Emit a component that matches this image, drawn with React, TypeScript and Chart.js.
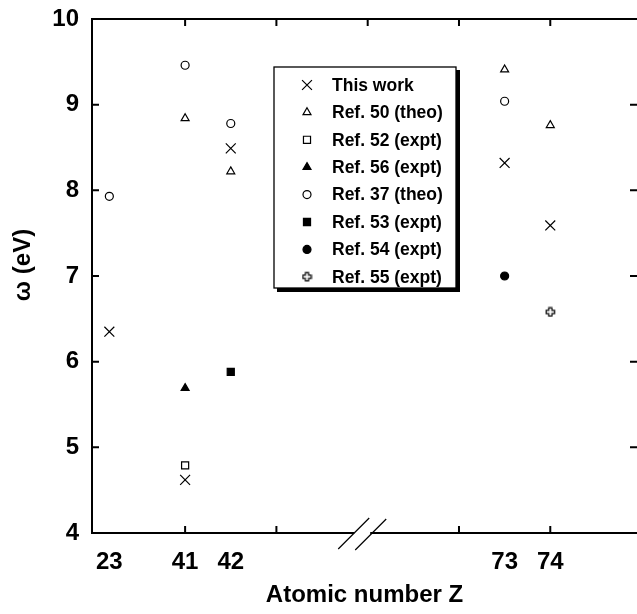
import React, { useEffect, useRef } from 'react';
import { Chart, registerables } from 'chart.js';
import { drawPoint } from 'chart.js/helpers';

Chart.register(...registerables);

// ---- data ----
const zLabels = ['23', '41', '42', '73', '74'];
// position of each Z on the broken axis (axis units, one unit per tick)
const zAxisPos = [0.17, 1, 1.5, 4.5, 5];
const xTickMarks = [1, 2, 3, 4, 5];
const axisBreakPos = 2.94;
const yTickValues = [4, 5, 6, 7, 8, 9, 10];

const thisWork = [6.35, 4.62, 8.49, 8.32, 7.59];
const ref50Theo = [null, 8.84, 8.22, 9.41, 8.76];
const ref52Expt = [null, 4.79, null, null, null];
const ref56Expt = [null, 5.69, null, null, null];
const ref37Theo = [7.93, 9.46, 8.78, 9.04, null];
const ref53Expt = [null, null, 5.88, null, null];
const ref54Expt = [null, null, null, 7.0, null];
const ref55Expt = [null, null, null, null, 6.58];

const seriesNames = [
  'This work',
  'Ref. 50 (theo)',
  'Ref. 52 (expt)',
  'Ref. 56 (expt)',
  'Ref. 37 (theo)',
  'Ref. 53 (expt)',
  'Ref. 54 (expt)',
  'Ref. 55 (expt)',
];

const FONT = '"Liberation Sans", Arial, Helvetica, sans-serif';

function toPoints(values: (number | null)[]) {
  const out: { x: number; y: number }[] = [];
  values.forEach((v, i) => {
    if (v !== null) out.push({ x: zAxisPos[i], y: v });
  });
  return out;
}

function makeOpenPlus(): HTMLCanvasElement {
  const c = document.createElement('canvas');
  c.width = 11;
  c.height = 11;
  const g = c.getContext('2d')!;
  const cx = 5.5, cy = 5.5, a = 1.6, e = 4.2;
  const pts = [
    [-a, -e], [a, -e], [a, -a], [e, -a], [e, a], [a, a],
    [a, e], [-a, e], [-a, a], [-e, a], [-e, -a], [-a, -a],
  ];
  g.beginPath();
  pts.forEach(([px, py], i) => {
    if (i === 0) g.moveTo(cx + px, cy + py);
    else g.lineTo(cx + px, cy + py);
  });
  g.closePath();
  g.fillStyle = '#fff';
  g.fill();
  g.strokeStyle = '#000';
  g.lineWidth = 1.2;
  g.stroke();
  return c;
}

const framePlugin = {
  id: 'frame',
  afterDraw(chart: any) {
    const { ctx, chartArea } = chart;
    const { left, top, right, bottom } = chartArea;
    const xs = chart.scales.x;
    const ys = chart.scales.y;
    const bx = xs.getPixelForValue(axisBreakPos);
    ctx.save();
    ctx.strokeStyle = '#000';
    ctx.lineWidth = 2;
    ctx.beginPath();
    ctx.moveTo(left, top - 1);
    ctx.lineTo(left, bottom + 1);
    ctx.moveTo(left - 1, top);
    ctx.lineTo(right, top);
    ctx.moveTo(left - 1, bottom);
    ctx.lineTo(bx - 8, bottom);
    ctx.moveTo(bx + 8, bottom);
    ctx.lineTo(right, bottom);
    // tick marks (inward)
    const tl = 7;
    xTickMarks.forEach((v) => {
      const px = xs.getPixelForValue(v);
      ctx.moveTo(px, top);
      ctx.lineTo(px, top + tl);
      if (Math.abs(px - bx) > 12) {
        ctx.moveTo(px, bottom);
        ctx.lineTo(px, bottom - tl);
      }
    });
    yTickValues.forEach((v) => {
      const py = ys.getPixelForValue(v);
      ctx.moveTo(left, py);
      ctx.lineTo(left + tl, py);
      ctx.moveTo(right, py);
      ctx.lineTo(right - tl, py);
    });
    ctx.stroke();
    // axis break slashes
    ctx.lineWidth = 1.2;
    ctx.beginPath();
    ctx.moveTo(bx - 24, bottom + 16);
    ctx.lineTo(bx + 7, bottom - 15);
    ctx.moveTo(bx - 7, bottom + 17);
    ctx.lineTo(bx + 24, bottom - 14);
    ctx.stroke();

    // y-axis title
    ctx.fillStyle = '#000';
    ctx.font = `bold 24px ${FONT}`;
    ctx.textAlign = 'center';
    ctx.textBaseline = 'middle';
    ctx.translate(left - 69, (top + bottom) / 2 - 11);
    ctx.rotate(-Math.PI / 2);
    ctx.fillText('ω (eV)', 0, 0);
    ctx.restore();
  },
};

const legendPlugin = {
  id: 'boxLegend',
  afterDatasetsDraw(chart: any) {
    const { ctx, chartArea } = chart;
    const boxL = chartArea.left + 182;
    const boxT = chartArea.top + 48;
    const boxW = 182;
    const boxH = 221;
    ctx.save();
    ctx.fillStyle = '#000';
    ctx.fillRect(boxL + 3, boxT + 3, boxW + 1, boxH + 1);
    ctx.fillStyle = '#fff';
    ctx.fillRect(boxL, boxT, boxW, boxH);
    ctx.strokeStyle = '#000';
    ctx.lineWidth = 1.3;
    ctx.strokeRect(boxL, boxT, boxW, boxH);

    const rowStep = 27.4;
    chart.data.datasets.forEach((ds: any, i: number) => {
      const y = boxT + 18 + i * rowStep;
      const sx = boxL + 33;
      ctx.fillStyle = ds.pointBackgroundColor;
      ctx.strokeStyle = ds.pointBorderColor;
      ctx.lineWidth = ds.pointBorderWidth;
      drawPoint(
        ctx,
        {
          pointStyle: ds.pointStyle,
          radius: ds.pointRadius,
          borderWidth: ds.pointBorderWidth,
          rotation: 0,
        } as any,
        sx,
        y
      );
      ctx.fillStyle = '#000';
      ctx.font = `bold 17.5px ${FONT}`;
      ctx.textAlign = 'left';
      ctx.textBaseline = 'middle';
      ctx.fillText(ds.label, boxL + 58, y + 1);
    });
    ctx.restore();
  },
};

export default function App() {
  const ref = useRef<HTMLCanvasElement | null>(null);

  useEffect(() => {
    if (!ref.current) return;
    const openPlus = makeOpenPlus();
    const styles: any[] = [
      { pointStyle: 'crossRot', pointRadius: 7, pointBackgroundColor: '#000' },
      { pointStyle: 'triangle', pointRadius: 4.6, pointBackgroundColor: '#fff' },
      { pointStyle: 'rect', pointRadius: 5, pointBackgroundColor: '#fff' },
      { pointStyle: 'triangle', pointRadius: 4.6, pointBackgroundColor: '#000' },
      { pointStyle: 'circle', pointRadius: 4, pointBackgroundColor: '#fff' },
      { pointStyle: 'rect', pointRadius: 5, pointBackgroundColor: '#000' },
      { pointStyle: 'circle', pointRadius: 4, pointBackgroundColor: '#000' },
      { pointStyle: openPlus, pointRadius: 5, pointBackgroundColor: '#fff' },
    ];
    const seriesValues = [
      thisWork, ref50Theo, ref52Expt, ref56Expt,
      ref37Theo, ref53Expt, ref54Expt, ref55Expt,
    ];
    const datasets = seriesValues.map((vals, i) => ({
      label: seriesNames[i],
      data: toPoints(vals),
      showLine: false,
      clip: false,
      pointBorderColor: '#000',
      pointBorderWidth: 1.2,
      pointHoverRadius: styles[i].pointRadius,
      ...styles[i],
    }));

    const chart = new Chart(ref.current, {
      type: 'scatter',
      data: { datasets },
      options: {
        animation: false,
        responsive: false,
        devicePixelRatio: 1,
        events: [],
        layout: { autoPadding: false, padding: { left: 0, top: 19, right: 0, bottom: 0 } },
        plugins: {
          legend: { display: false },
          tooltip: { enabled: false },
        },
        scales: {
          x: {
            type: 'linear',
            min: -0.02,
            max: 5.95,
            grid: { display: false, drawTicks: true, tickLength: 15 },
            border: { display: false },
            afterBuildTicks: (scale: any) => {
              scale.ticks = zAxisPos.map((v) => ({ value: v }));
            },
            afterFit: (scale: any) => {
              scale.height = 81;
            },
            ticks: {
              autoSkip: false,
              maxRotation: 0,
              minRotation: 0,
              padding: 0,
              color: '#000',
              font: { family: FONT, size: 24, weight: 'bold' },
              callback: (_v: any, index: number) => zLabels[index],
            },
            title: {
              display: true,
              text: 'Atomic number Z',
              color: '#000',
              font: { family: FONT, size: 24, weight: 'bold' },
              padding: { top: 4, bottom: 4 },
            },
          },
          y: {
            type: 'linear',
            min: 4,
            max: 10,
            grid: { display: false, drawTicks: true, tickLength: 13 },
            border: { display: false },
            afterBuildTicks: (scale: any) => {
              scale.ticks = yTickValues.map((v) => ({ value: v }));
            },
            afterFit: (scale: any) => {
              scale.width = 92;
            },
            ticks: {
              padding: 0,
              color: '#000',
              font: { family: FONT, size: 24, weight: 'bold' },
              callback: (v: any) => String(v),
            },
          },
        },
      },
      plugins: [framePlugin, legendPlugin],
    } as any);
    return () => chart.destroy();
  }, []);

  return (
    <div style={{ position: 'absolute', left: 0, top: 0, width: 637, height: 614 }}>
      <canvas ref={ref} width={637} height={614} style={{ display: 'block' }} />
    </div>
  );
}
